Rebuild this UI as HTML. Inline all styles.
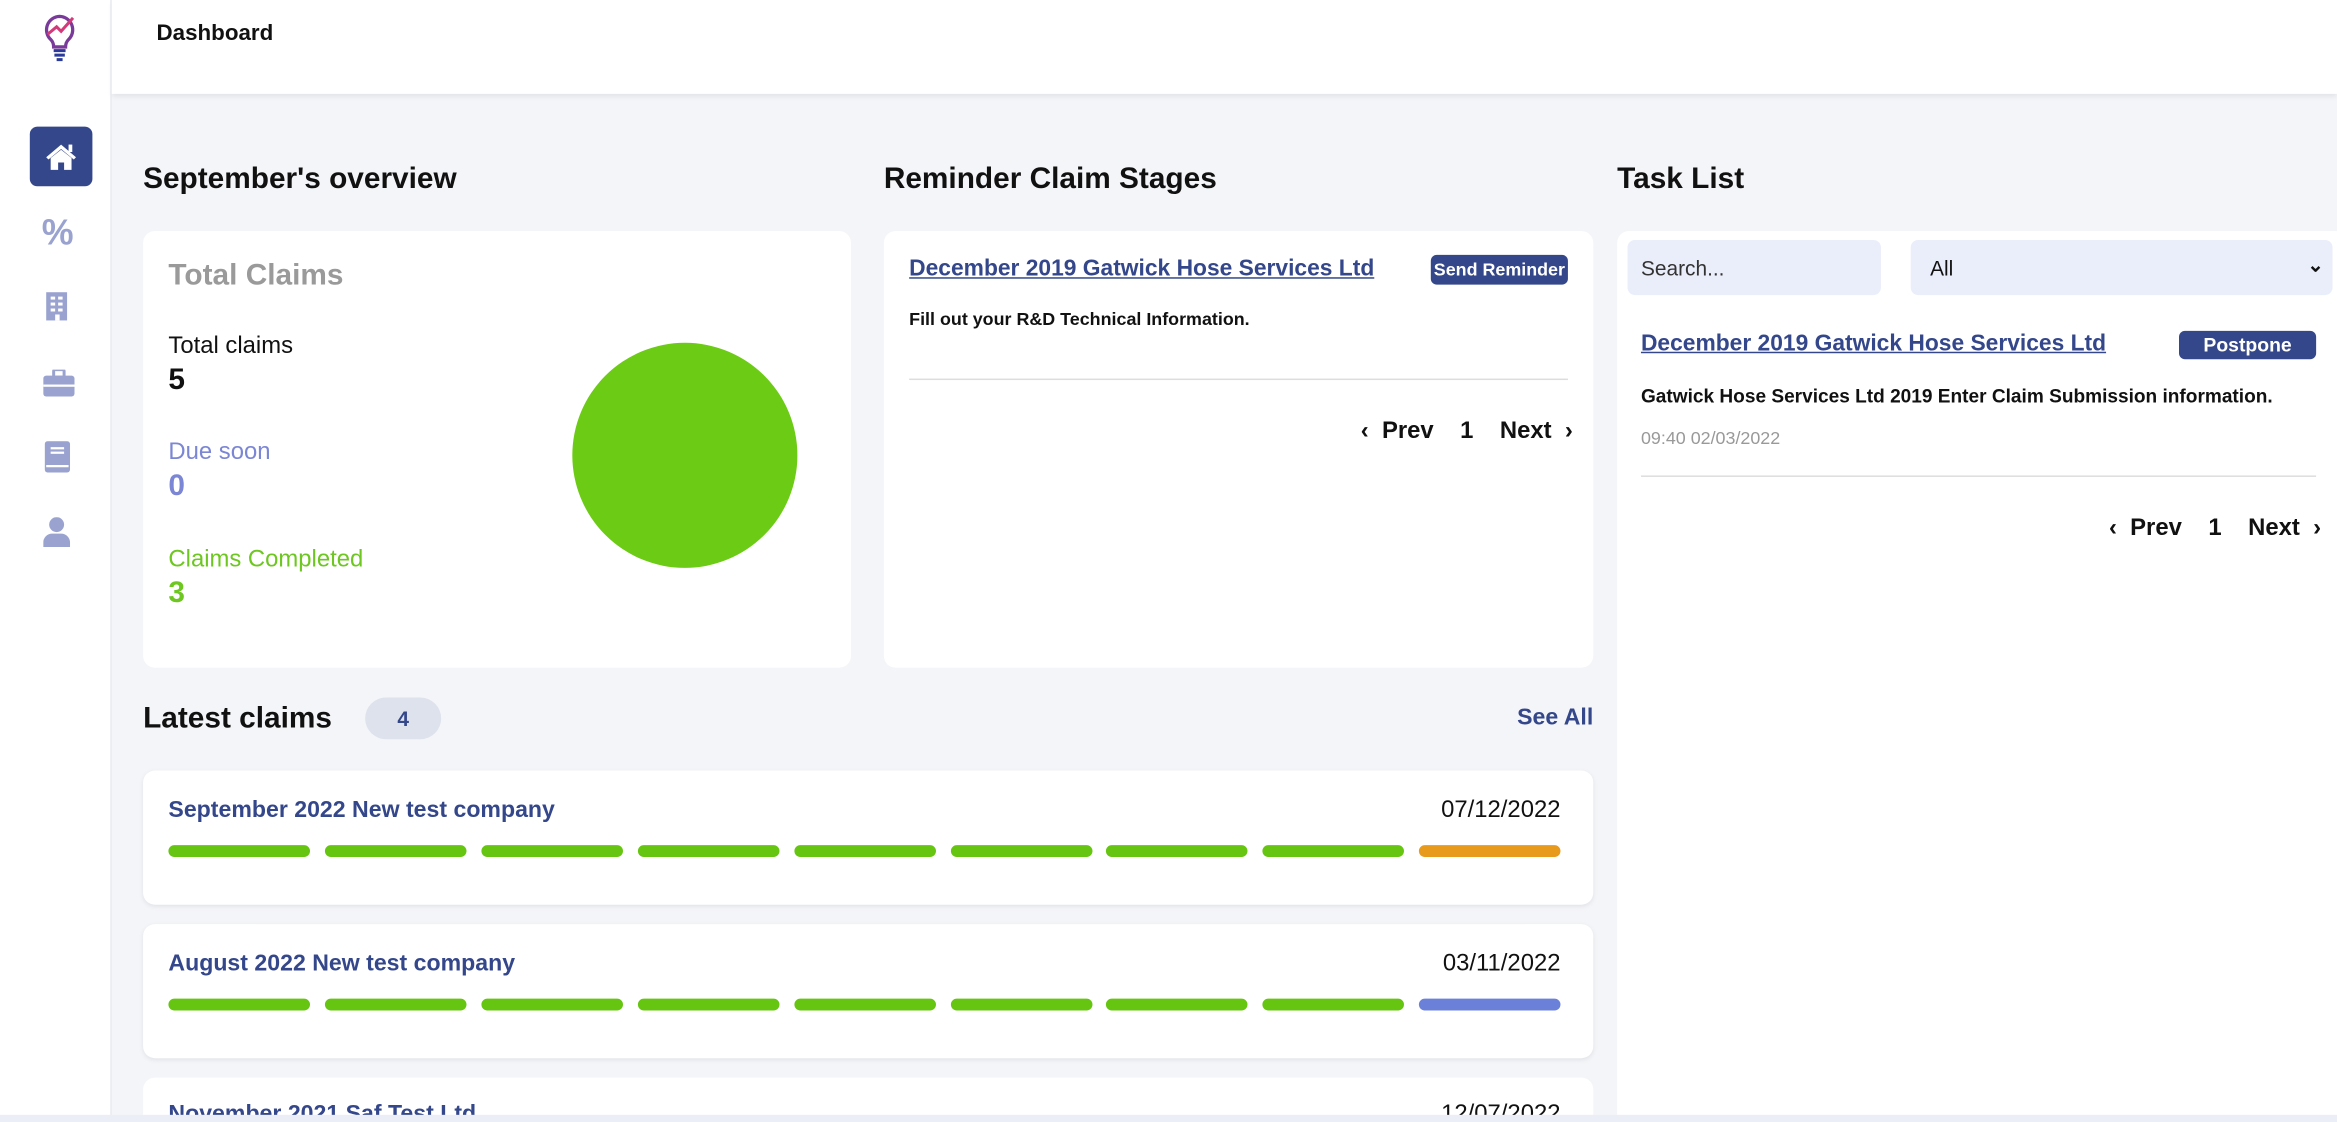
<!DOCTYPE html>
<html><head><meta charset="utf-8"><style>
*{box-sizing:border-box;margin:0;padding:0}
html,body{width:2337px;height:1122px;overflow:hidden;background:#f4f5f8;font-family:"Liberation Sans",Arial,sans-serif}
#w{position:absolute;left:0;top:0;width:1568px;height:753px;overflow:hidden;transform:scale(1.49043);transform-origin:0 0;background:#f4f5f8}
.a{position:absolute}
.card{position:absolute;background:#fff;border-radius:8px}
h2{position:absolute;font-size:20px;font-weight:bold;color:#111}
.lnk{color:#34478b;font-weight:bold;text-decoration:underline;font-size:15.3px;white-space:nowrap}
.btn{position:absolute;background:#34478b;color:#fff;font-weight:bold;border-radius:4px;text-align:center}
.pg{position:absolute;font-size:16px;font-weight:bold;color:#111;white-space:nowrap}
.bar{position:absolute;height:8px;border-radius:4px;width:95px;background:#66c510}
.dt{position:absolute;right:521px;font-size:16px;color:#111}
</style></head><body><div id="w">
<div class="a" style="left:0;top:0;width:75px;height:753px;background:#fff;border-right:1px solid #e8e9ee"></div>
<div class="a" style="left:75px;top:0;width:1493px;height:63px;background:#fff;box-shadow:0 2px 3px #e3e4e8"></div>
<svg class="a" style="left:26px;top:7px" width="28" height="36" viewBox="0 0 28 36"><path d="M14 4a9 9 0 0 0-6 15.5c1.5 1.5 2 3 2 5h8c0-2 .5-3.5 2-5A9 9 0 0 0 14 4z" fill="none" stroke="#7a3a9a" stroke-width="2.2"/><path d="M6 16l6-5 3 3 8-9" fill="none" stroke="#d23a7a" stroke-width="2"/><path d="M10 27h8M10.5 30h7M12 33h4" stroke="#2a3a9a" stroke-width="2"/></svg>
<div class="a" style="left:105px;top:14px;font-size:15px;font-weight:bold;color:#111">Dashboard</div>
<div class="a" style="left:20px;top:85px;width:42px;height:40px;background:#34478b;border-radius:5px"></div>
<svg class="a" style="left:30px;top:95px" width="22" height="20" viewBox="0 0 22 20"><path d="M11 2L1 10.5l1.5 1.5L11 5l8.5 7 1.5-1.5z" fill="#fff"/><path d="M4 11v8h5v-5h4v5h5v-8l-7-5.5z" fill="#fff"/><rect x="16" y="2" width="2.5" height="5" fill="#fff"/></svg>
<div class="a" style="left:28px;top:143px;font-size:24px;font-weight:bold;color:#9aa3cf">%</div>
<svg class="a" style="left:30px;top:196px" width="16" height="20"><rect x="1" y="0" width="14" height="19" fill="#9aa3cf"/><g fill="#fff"><rect x="4" y="3" width="3" height="2"/><rect x="9" y="3" width="3" height="2"/><rect x="4" y="7" width="3" height="2"/><rect x="9" y="7" width="3" height="2"/><rect x="4" y="11" width="3" height="2"/><rect x="9" y="11" width="3" height="2"/><rect x="7" y="15" width="3" height="4"/></g></svg>
<svg class="a" style="left:29px;top:248px" width="21" height="18"><rect x="7" y="0" width="7" height="5" rx="1" fill="none" stroke="#9aa3cf" stroke-width="2"/><rect x="0" y="4" width="21" height="14" rx="2" fill="#9aa3cf"/><rect x="0" y="10" width="21" height="1.5" fill="#fff"/></svg>
<svg class="a" style="left:30px;top:296px" width="17" height="21"><rect x="0" y="0" width="17" height="21" rx="2" fill="#9aa3cf"/><rect x="4" y="4" width="9" height="1.5" fill="#fff"/><rect x="4" y="7" width="9" height="1.5" fill="#fff"/><rect x="1" y="16" width="15" height="1.5" fill="#fff"/></svg>
<svg class="a" style="left:29px;top:347px" width="18" height="20"><circle cx="9" cy="5" r="5" fill="#9aa3cf"/><path d="M0 20v-3a6 6 0 0 1 6-6h6a6 6 0 0 1 6 6v3z" fill="#9aa3cf"/></svg>

<h2 style="left:96px;top:109px">September's overview</h2>
<div class="card" style="left:96px;top:155px;width:475px;height:293px"></div>
<div class="a" style="left:113px;top:174px;font-size:20px;font-weight:bold;color:#9a9a9a">Total Claims</div>
<div class="a" style="left:113px;top:224px;font-size:16px;color:#111">Total claims</div>
<div class="a" style="left:113px;top:244px;font-size:20px;font-weight:bold;color:#111">5</div>
<div class="a" style="left:113px;top:295px;font-size:16px;color:#7b86d4">Due soon</div>
<div class="a" style="left:113px;top:315px;font-size:20px;font-weight:bold;color:#7b86d4">0</div>
<div class="a" style="left:113px;top:367px;font-size:16px;color:#6dc720">Claims Completed</div>
<div class="a" style="left:113px;top:387px;font-size:20px;font-weight:bold;color:#6dc720">3</div>
<div class="a" style="left:384px;top:230px;width:151px;height:151px;border-radius:50%;background:#6ccb14"></div>

<h2 style="left:593px;top:109px">Reminder Claim Stages</h2>
<div class="card" style="left:593px;top:155px;width:476px;height:293px"></div>
<div class="a lnk" style="left:610px;top:172px">December 2019 Gatwick Hose Services Ltd</div>
<div class="btn" style="left:960px;top:171px;width:92px;height:20px;font-size:12px;line-height:20px">Send Reminder</div>
<div class="a" style="left:610px;top:207px;font-size:12px;font-weight:bold;color:#111">Fill out your R&amp;D Technical Information.</div>
<div class="a" style="left:610px;top:254px;width:442px;height:1px;background:#ddd"></div>
<div class="pg" style="left:913px;top:281px">‹&nbsp; Prev &nbsp;&nbsp; 1 &nbsp;&nbsp; Next &nbsp;›</div>

<h2 style="left:1085px;top:109px">Task List</h2>
<div class="card" style="left:1085px;top:155px;width:490px;height:610px"></div>
<div class="a" style="left:1092px;top:161px;width:170px;height:37px;background:#eaeefa;border-radius:5px;font-size:14px;color:#333;padding:11px 9px">Search...</div>
<div class="a" style="left:1282px;top:161px;width:283px;height:37px;background:#eaeefa;border-radius:5px;font-size:14px;color:#111;padding:11px 13px">All<span style="position:absolute;right:6px;top:9px;font-size:13px;font-weight:bold">⌄</span></div>
<div class="a lnk" style="left:1101px;top:222px">December 2019 Gatwick Hose Services Ltd</div>
<div class="btn" style="left:1462px;top:222px;width:92px;height:19px;font-size:13px;line-height:19px">Postpone</div>
<div class="a" style="left:1101px;top:258px;font-size:12.8px;font-weight:bold;color:#111">Gatwick Hose Services Ltd 2019 Enter Claim Submission information.</div>
<div class="a" style="left:1101px;top:287px;font-size:12px;color:#999">09:40 02/03/2022</div>
<div class="a" style="left:1101px;top:319px;width:453px;height:1px;background:#ddd"></div>
<div class="pg" style="left:1415px;top:346px">‹&nbsp; Prev &nbsp;&nbsp; 1 &nbsp;&nbsp; Next &nbsp;›</div>

<h2 style="left:96px;top:471px">Latest claims</h2>
<div class="a" style="left:245px;top:468px;width:51px;height:28px;border-radius:14px;background:#dde2ec;text-align:center;line-height:28px;font-weight:bold;color:#34478b;font-size:14px">4</div>
<div class="a" style="right:499px;top:473px;font-size:15.5px;font-weight:bold;color:#34478b">See All</div>

<div class="card" style="left:96px;top:517px;width:973px;height:90px;box-shadow:0 1px 3px #e1e3e8"></div>
<div class="a" style="left:113px;top:535px;font-size:15.5px;font-weight:bold;color:#34478b">September 2022 New test company</div>
<div class="dt" style="top:535px">07/12/2022</div>
<div class="card" style="left:96px;top:620px;width:973px;height:90px;box-shadow:0 1px 3px #e1e3e8"></div>
<div class="a" style="left:113px;top:638px;font-size:15.5px;font-weight:bold;color:#34478b">August 2022 New test company</div>
<div class="dt" style="top:638px">03/11/2022</div>
<div class="card" style="left:96px;top:723px;width:973px;height:60px"></div>
<div class="a" style="left:113px;top:739px;font-size:15.5px;font-weight:bold;color:#34478b">November 2021 Saf Test Ltd</div>
<div class="dt" style="top:739px">12/07/2022</div>
<div id="bars"></div>
<div class="a" style="left:0;top:748px;width:1568px;height:5px;background:#eceef7"></div>
</div>
<script>
var b=document.getElementById('bars'),h='';
[[567,'#e89a1c'],[670,'#6b80d8']].forEach(function(r){for(var i=0;i<9;i++){var c=i==8?r[1]:'#66c510';h+='<div class="bar" style="left:'+(113+i*104.9)+'px;top:'+r[0]+'px;background:'+c+'"></div>';}});
b.innerHTML=h;
</script>
</body></html>
